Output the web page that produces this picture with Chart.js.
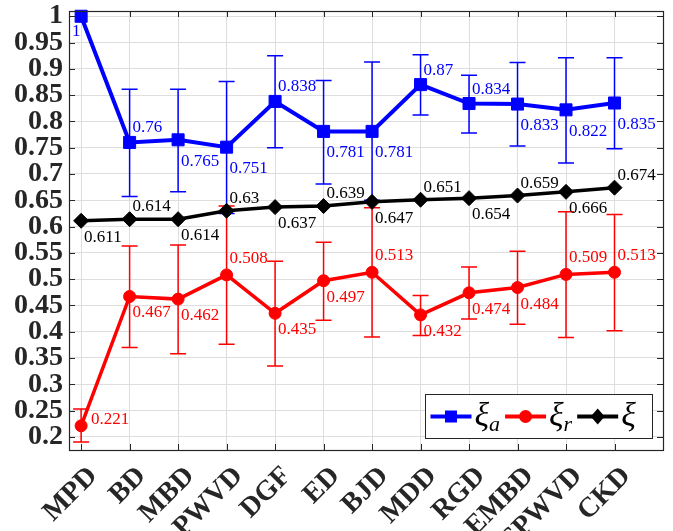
<!DOCTYPE html>
<html>
<head>
<meta charset="utf-8">
<script src="https://cdn.jsdelivr.net/npm/chart.js@4.4.1/dist/chart.umd.min.js"></script>
<style>
html, body { margin: 0; padding: 0; background: #fff; }
</style>
</head>
<body>
<canvas id="chart" width="673" height="531"></canvas>
<script>
// DATOS
const metodos = ['MPD', 'BD', 'MBD', 'PWVD', 'DGF', 'ED', 'BJD', 'MDD', 'RGD', 'EMBD', 'SPWVD', 'CKD'];

const xiA    = [1, 0.76, 0.765, 0.751, 0.838, 0.781, 0.781, 0.87, 0.834, 0.833, 0.822, 0.835];
const xiAMin = [null, 0.657, 0.666, 0.625, 0.750, 0.681, 0.650, 0.812, 0.778, 0.753, 0.721, 0.748];
const xiAMax = [null, 0.861, 0.861, 0.876, 0.925, 0.878, 0.913, 0.927, 0.888, 0.912, 0.921, 0.921];

const xiR    = [0.221, 0.467, 0.462, 0.508, 0.435, 0.497, 0.513, 0.432, 0.474, 0.484, 0.509, 0.513];
const xiRMin = [0.190, 0.370, 0.358, 0.376, 0.335, 0.422, 0.390, 0.393, 0.424, 0.414, 0.389, 0.402];
const xiRMax = [0.253, 0.563, 0.565, 0.639, 0.534, 0.570, 0.636, 0.469, 0.523, 0.553, 0.628, 0.623];

const xi     = [0.611, 0.614, 0.614, 0.63, 0.637, 0.639, 0.647, 0.651, 0.654, 0.659, 0.666, 0.674];

const yTicks = [0.2, 0.25, 0.3, 0.35, 0.4, 0.45, 0.5, 0.55, 0.6, 0.65, 0.7, 0.75, 0.8, 0.85, 0.9, 0.95, 1];

// donde va cada etiqueta: a = arriba, b = abajo, r = derecha, l = abajo izquierda
const posA = ['l', 'a', 'b', 'b', 'a', 'b', 'b', 'a', 'a', 'b', 'b', 'b'];
const posR = ['r', 'b', 'b', 'a', 'b', 'b', 'a', 'b', 'b', 'b', 'a', 'a'];
const posK = ['b', 'a', 'b', 'a', 'b', 'a', 'b', 'a', 'b', 'a', 'b', 'a'];

const AZUL = '#0000ff';
const ROJO = '#ff0000';
const NEGRO = '#000000';
const EJE = '#262626';

const puntos = arr => arr.map((v, i) => ({ x: i, y: v }));

// BARRAS DE ERROR
const barrasError = {
    id: 'barrasError',
    beforeDatasetsDraw(chart) {
        const { ctx, scales: { x, y } } = chart;
        const series = [[xiAMin, xiAMax, AZUL], [xiRMin, xiRMax, ROJO]];
        ctx.save();
        ctx.lineWidth = 1.5;
        series.forEach(([lo, hi, color]) => {
            ctx.strokeStyle = color;
            lo.forEach((v, i) => {
                if (v === null) return;
                const px = x.getPixelForValue(i);
                const y1 = y.getPixelForValue(v);
                const y2 = y.getPixelForValue(hi[i]);
                ctx.beginPath();
                ctx.moveTo(px, y1); ctx.lineTo(px, y2);
                ctx.moveTo(px - 8, y1); ctx.lineTo(px + 8, y1);
                ctx.moveTo(px - 8, y2); ctx.lineTo(px + 8, y2);
                ctx.stroke();
            });
        });
        ctx.restore();
    }
};

// ETIQUETAS DE VALORES
const etiquetas = {
    id: 'etiquetas',
    afterDatasetsDraw(chart) {
        const { ctx, scales: { x, y } } = chart;
        const grupos = [[xiA, posA, AZUL, 26, 10], [xiR, posR, ROJO, 21, 12], [xi, posK, NEGRO, 21, 8]];
        ctx.save();
        ctx.font = '17px "Liberation Serif"';
        ctx.textBaseline = 'alphabetic';
        grupos.forEach(([vals, pos, color, abajo, arriba]) => {
            ctx.fillStyle = color;
            vals.forEach((v, i) => {
                const px = x.getPixelForValue(i);
                const py = y.getPixelForValue(v);
                const txt = String(v);
                let tx = px + 3, ty = py - arriba;
                if (pos[i] === 'b') ty = py + abajo;
                if (pos[i] === 'r') { tx = px + 10; ty = py - 2; }
                if (pos[i] === 'l') { tx = px - 9; ty = py + 20; }
                ctx.fillText(txt, tx, ty);
            });
        });
        ctx.restore();
    }
};

function marcador(ctx, estilo, cx, cy, color) {
    ctx.fillStyle = color;
    ctx.beginPath();
    if (estilo === 'rect') ctx.rect(cx - 6, cy - 6, 12, 12);
    else if (estilo === 'circle') ctx.arc(cx, cy, 6.5, 0, Math.PI * 2);
    else { ctx.moveTo(cx - 7, cy); ctx.lineTo(cx, cy - 8); ctx.lineTo(cx + 7, cy); ctx.lineTo(cx, cy + 8); ctx.closePath(); }
    ctx.fill();
}

// CAJA, MARCAS Y LEYENDA
const caja = {
    id: 'caja',
    afterDraw(chart) {
        const { ctx, chartArea: a, scales: { x, y } } = chart;
        ctx.save();
        ctx.strokeStyle = EJE;
        ctx.lineWidth = 1;
        ctx.beginPath();
        x.ticks.forEach(t => {
            const px = Math.round(x.getPixelForValue(t.value)) + 0.5;
            ctx.moveTo(px, a.bottom); ctx.lineTo(px, a.bottom - 6);
            ctx.moveTo(px, a.top); ctx.lineTo(px, a.top + 6);
        });
        y.ticks.forEach(t => {
            const py = Math.round(y.getPixelForValue(t.value)) + 0.5;
            ctx.moveTo(a.left, py); ctx.lineTo(a.left + 6, py);
            ctx.moveTo(a.right, py); ctx.lineTo(a.right - 6, py);
        });
        ctx.stroke();
        ctx.lineWidth = 1.2;
        ctx.strokeRect(Math.round(a.left) + 0.5, Math.round(a.top) + 0.5,
            Math.round(a.right - a.left), Math.round(a.bottom - a.top));

        // leyenda
        const w = 227, h = 44;
        const x0 = Math.round(a.right - 11 - w) + 0.5;
        const y0 = Math.round(a.bottom - 12 - h) + 0.5;
        ctx.fillStyle = '#fff';
        ctx.fillRect(x0, y0, w, h);
        ctx.lineWidth = 1;
        ctx.strokeStyle = EJE;
        ctx.strokeRect(x0, y0, w, h);
        const items = [[AZUL, 'rect', 'a'], [ROJO, 'circle', 'r'], [NEGRO, 'diamond', '']];
        let lx = x0 + 5;
        const ly = y0 + h / 2;
        items.forEach(([color, estilo, sub]) => {
            ctx.strokeStyle = color;
            ctx.lineWidth = 4;
            ctx.beginPath();
            ctx.moveTo(lx, ly); ctx.lineTo(lx + 41, ly);
            ctx.stroke();
            marcador(ctx, estilo, lx + 20.5, ly, color);
            lx += 44;
            ctx.fillStyle = NEGRO;
            ctx.font = 'italic 34px "Liberation Serif"';
            ctx.textBaseline = 'alphabetic';
            ctx.fillText('ξ', lx, ly + 9);
            lx += ctx.measureText('ξ').width;
            if (sub) {
                ctx.font = 'italic 22px "Liberation Serif"';
                ctx.fillText(sub, lx, ly + 14);
                lx += ctx.measureText(sub).width;
            }
            lx += 5;
        });
        ctx.restore();
    }
};

const config = {
    type: 'line',
    data: {
        datasets: [
            {
                label: 'ξa', data: puntos(xiA),
                borderColor: AZUL, backgroundColor: AZUL, borderWidth: 4,
                pointStyle: 'rect', pointRadius: 8.5, pointBorderWidth: 1, clip: false
            },
            {
                label: 'ξr', data: puntos(xiR),
                borderColor: ROJO, backgroundColor: ROJO, borderWidth: 3.5,
                pointStyle: 'circle', pointRadius: 6, pointBorderWidth: 1, clip: false
            },
            {
                label: 'ξ', data: puntos(xi),
                borderColor: NEGRO, backgroundColor: NEGRO, borderWidth: 3.5,
                pointStyle: 'rectRot', pointRadius: 7.5, pointBorderWidth: 1, clip: false
            }
        ]
    },
    options: {
        responsive: false,
        animation: false,
        layout: { padding: { top: 11, right: 10, left: 0, bottom: 0 } },
        plugins: {
            legend: { display: false },
            tooltip: { enabled: false }
        },
        scales: {
            x: {
                type: 'linear', min: -0.25, max: 12,
                afterBuildTicks: s => { s.ticks = metodos.map((_, i) => ({ value: i })); },
                afterFit: s => {
                    s.height = 81;
                    s.paddingLeft = 0; s.paddingRight = 0;
                },
                grid: { color: '#dedede', drawTicks: false },
                border: { display: false },
                ticks: {
                    autoSkip: false, maxRotation: 45, minRotation: 45,
                    padding: 10, labelOffset: 12,
                    color: EJE, font: { family: 'Liberation Serif', weight: 'bold', size: 28 },
                    callback: v => metodos[v] ?? ''
                }
            },
            y: {
                min: 0.175, max: 1.01,
                afterBuildTicks: s => { s.ticks = yTicks.map(v => ({ value: v })); },
                afterFit: s => {
                    s.width = 69;
                    s.paddingTop = 0; s.paddingBottom = 0;
                },
                grid: { color: '#dedede', drawTicks: false },
                border: { display: false },
                ticks: {
                    autoSkip: false, padding: 6,
                    color: EJE, font: { family: 'Liberation Serif', weight: 'bold', size: 28 },
                    callback: v => String(+v.toFixed(2))
                }
            }
        }
    },
    plugins: [barrasError, etiquetas, caja]
};

let grafico = new Chart(document.getElementById('chart'), config);
</script>
</body>
</html>
